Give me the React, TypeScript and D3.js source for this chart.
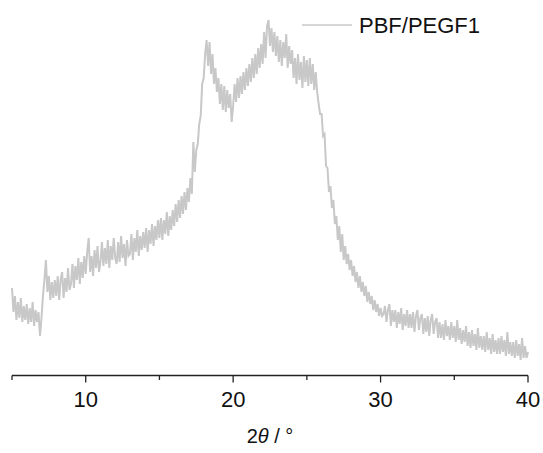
import React from "react";
import * as d3 from "d3";

// 2θ start / step (degrees)
const thetaStart = 5.0;
const thetaStep = 0.1;

const intensity: number[] = [
  92, 68, 84, 60, 78, 62, 82, 58, 74, 60,
  76, 56, 72, 58, 78, 54, 70, 58, 68, 44,
  62, 84, 100, 120, 88, 104, 80, 98, 82, 100,
  84, 104, 80, 100, 108, 82, 102, 88, 112, 90,
  96, 116, 92, 114, 100, 122, 96, 118, 102, 124,
  106, 128, 142, 108, 124, 104, 130, 112, 134, 108,
  118, 138, 114, 132, 116, 140, 112, 134, 120, 142,
  122, 116, 138, 118, 144, 122, 136, 114, 140, 124,
  126, 146, 120, 142, 128, 150, 124, 144, 130, 148,
  132, 152, 128, 150, 136, 156, 134, 154, 140, 160,
  142, 162, 140, 160, 146, 168, 144, 164, 150, 170,
  154, 176, 158, 180, 162, 184, 166, 188, 170, 192,
  178, 202, 186, 238, 208, 230, 236, 256, 264, 296,
  302, 326, 340, 314, 338, 306, 326, 296, 312, 288,
  302, 276, 296, 270, 294, 268, 290, 272, 286, 258,
  274, 296, 278, 302, 282, 304, 286, 308, 290, 312,
  294, 316, 298, 322, 302, 326, 306, 332, 312, 336,
  316, 348, 322, 354, 360, 334, 352, 328, 348, 324,
  344, 318, 340, 314, 338, 322, 346, 312, 334, 316,
  330, 302, 322, 296, 326, 300, 318, 292, 324, 298,
  320, 294, 322, 296, 316, 290, 308, 288, 276, 266,
  266, 244, 246, 214, 212, 188, 194, 172, 180, 156,
  164, 140, 154, 128, 146, 120, 134, 116, 126, 110,
  120, 104, 114, 98, 108, 92, 104, 88, 98, 84,
  94, 78, 88, 76, 84, 70, 80, 68, 76, 64,
  72, 64, 66, 74, 58, 70, 76, 54, 70, 58,
  70, 52, 68, 56, 72, 50, 66, 54, 70, 52,
  66, 52, 68, 48, 64, 70, 50, 62, 66, 46,
  62, 48, 64, 44, 60, 66, 46, 58, 62, 42,
  58, 42, 56, 40, 60, 44, 54, 40, 58, 42,
  54, 38, 60, 40, 52, 36, 50, 38, 54, 34,
  48, 32, 50, 34, 46, 30, 52, 32, 44, 30,
  44, 28, 48, 30, 42, 26, 46, 28, 40, 26,
  42, 26, 44, 28, 40, 24, 48, 26, 38, 24,
  38, 22, 40, 24, 36, 20, 42, 22, 34, 22,
  28,
];

const majorTicks = [10, 20, 30, 40];
const minorTicks = [5, 15, 25, 35];
const seriesName = "PBF/PEGF1";

export default function App() {
  const W = 543;
  const H = 453;
  const x = d3.scaleLinear().domain([5, 40]).range([12, 528]);
  const y = d3.scaleLinear().domain([0, 380]).range([380, 0]);
  const axisY = 375.5;

  const pts: [number, number][] = intensity.map((v, i) => [thetaStart + i * thetaStep, v]);
  const line = d3
    .line<[number, number]>()
    .x((d) => x(d[0]))
    .y((d) => y(d[1]));

  const font = "Arial, 'Liberation Sans', Helvetica, sans-serif";

  return (
    <svg
      width={W}
      height={H}
      style={{ position: "absolute", left: 0, top: 0, background: "#fff" }}
    >
      <path d={line(pts) || ""} fill="none" stroke="#c8c8c8" strokeWidth={2} strokeLinejoin="miter" />

      {/* axis */}
      <line x1={x(5)} x2={x(40)} y1={axisY} y2={axisY} stroke="#222" strokeWidth={1.3} />
      {majorTicks.map((t) => (
        <g key={"M" + t}>
          <line x1={x(t)} x2={x(t)} y1={axisY} y2={axisY + 7} stroke="#222" strokeWidth={1.3} />
          <text
            x={x(t)}
            y={407}
            textAnchor="middle"
            fontFamily={font}
            fontSize={22}
            fill="#111"
          >
            {t}
          </text>
        </g>
      ))}
      {minorTicks.map((t) => (
        <line key={"m" + t} x1={x(t)} x2={x(t)} y1={axisY} y2={axisY + 4.5} stroke="#222" strokeWidth={1.3} />
      ))}

      {/* axis title */}
      <text x={270} y={443} textAnchor="middle" fontFamily={font} fontSize={20} fill="#111">
        <tspan>2</tspan>
        <tspan fontStyle="italic">θ</tspan>
        <tspan> / °</tspan>
      </text>

      {/* legend */}
      <line x1={302} x2={352} y1={25} y2={25} stroke="#c8c8c8" strokeWidth={1.6} />
      <text x={359} y={33} fontFamily={font} fontSize={22} fill="#111">
        {seriesName}
      </text>
    </svg>
  );
}
